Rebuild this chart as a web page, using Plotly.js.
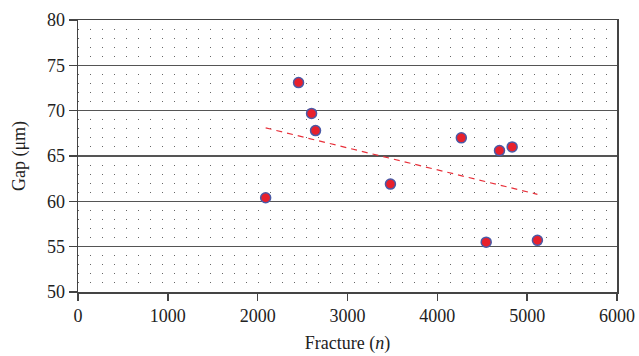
<!DOCTYPE html>
<html>
<head>
<meta charset="utf-8">
<script src="https://cdn.plot.ly/plotly-3.0.1.min.js"></script>
<style>html,body{margin:0;padding:0;background:#fff;}#chart{width:639px;height:356px;}</style>
</head>
<body>
<div id="chart"></div>
<script>
const fractureN = [2089, 2455, 2600, 2644, 3478, 4267, 4544, 4692, 4833, 5114];
const gapUm = [60.4, 73.1, 69.7, 67.8, 61.9, 67.0, 55.5, 65.6, 66.0, 55.7];
const xTickVals = [0, 1000, 2000, 3000, 4000, 5000, 6000];
const yTickVals = [50, 55, 60, 65, 70, 75, 80];

// linear least-squares trend line over the data
const n = fractureN.length;
const mx = fractureN.reduce((a, b) => a + b, 0) / n;
const my = gapUm.reduce((a, b) => a + b, 0) / n;
let sxy = 0, sxx = 0;
for (let i = 0; i < n; i++) { sxy += (fractureN[i] - mx) * (gapUm[i] - my); sxx += (fractureN[i] - mx) ** 2; }
const slope = sxy / sxx, icpt = my - slope * mx;
const xMin = Math.min(...fractureN), xMax = Math.max(...fractureN);
const trendX = [xMin, xMax];
const trendY = trendX.map(x => icpt + slope * x);

const FAM = '"Liberation Serif", "DejaVu Serif", serif';
const mkFont = () => ({family: FAM, size: 18, color: '#222'});

const traces = [
  {x: trendX, y: trendY, mode: 'lines', type: 'scatter',
   line: {color: '#e8303a', width: 1.2, dash: '6px,5px'}, hoverinfo: 'skip'},
  {x: fractureN, y: gapUm, mode: 'markers', type: 'scatter',
   marker: {size: 10, color: '#e8202c', line: {color: '#4b5aa6', width: 1.5}}}
];

const layout = {
  width: 639, height: 356,
  margin: {l: 78, r: 22, t: 20, b: 64},
  paper_bgcolor: '#fff', plot_bgcolor: '#fff',
  showlegend: false,
  font: mkFont(),
  xaxis: {
    range: [0, 6000], tickvals: xTickVals, ticktext: xTickVals.map(String),
    showgrid: false, zeroline: false,
    showline: true, linecolor: '#444', linewidth: 1.5, mirror: true,
    ticks: 'outside', ticklen: 7, tickcolor: '#444', tickwidth: 1.5,
    tickfont: mkFont(),
    title: {text: 'Fracture (<i>n</i>)', font: mkFont(), standoff: 11}
  },
  yaxis: {
    range: [50, 80], tickvals: yTickVals, ticktext: yTickVals.map(String),
    showgrid: true, gridcolor: '#555', gridwidth: 1.2,
    minor: {dtick: 1, showgrid: true, gridcolor: '#666', gridwidth: 1, griddash: '1px,11px', ticks: ''},
    zeroline: false,
    showline: true, linecolor: '#444', linewidth: 1.5, mirror: true,
    ticks: 'outside', ticklen: 8, tickcolor: '#444', tickwidth: 1.5,
    tickfont: mkFont(),
    title: {text: 'Gap (μm)', font: mkFont(), standoff: 16}
  }
};

Plotly.newPlot('chart', traces, layout, {displayModeBar: false, staticPlot: true});
</script>
</body>
</html>
